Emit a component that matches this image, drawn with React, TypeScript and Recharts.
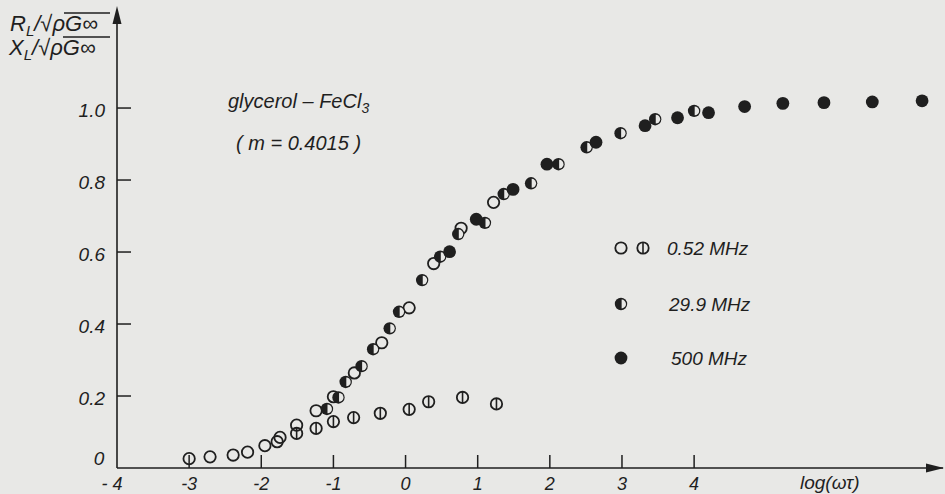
import React from "react";
import { ScatterChart, Scatter, XAxis, YAxis } from "recharts";

// log(ωτ), R_L or X_L / sqrt(ρ G∞)
const open052: [number, number][] = [
  [-3.0, 0.026], [-2.71, 0.031], [-2.39, 0.036], [-2.19, 0.044], [-1.95, 0.062],
  [-1.78, 0.073], [-1.74, 0.085], [-1.51, 0.119], [-1.24, 0.159], [-1.0, 0.198],
  [-0.71, 0.264], [-0.33, 0.348], [0.05, 0.445], [0.39, 0.568], [0.77, 0.666],
  [1.22, 0.738],
];

const bar052: [number, number][] = [
  [-1.51, 0.096], [-1.24, 0.11], [-1.0, 0.129], [-0.72, 0.14], [-0.35, 0.152],
  [0.05, 0.163], [0.32, 0.184], [0.79, 0.196], [1.26, 0.178],
];

const half299: [number, number][] = [
  [-1.09, 0.164], [-0.93, 0.196], [-0.83, 0.239], [-0.61, 0.283], [-0.45, 0.33],
  [-0.22, 0.388], [-0.09, 0.434], [0.23, 0.522], [0.48, 0.587], [0.73, 0.65],
  [1.1, 0.681], [1.36, 0.761], [1.74, 0.791], [2.12, 0.844], [2.51, 0.891],
  [2.98, 0.93], [3.46, 0.969], [4.0, 0.992],
];

const full500: [number, number][] = [
  [0.61, 0.601], [0.98, 0.691], [1.49, 0.774], [1.96, 0.844], [2.64, 0.905],
  [3.32, 0.951], [3.77, 0.973], [4.2, 0.987], [4.7, 1.004], [5.23, 1.013],
  [5.8, 1.015], [6.47, 1.017], [7.16, 1.02],
];

const xTicks = [-4, -3, -2, -1, 0, 1, 2, 3, 4];
const yTicks = [0, 0.2, 0.4, 0.6, 0.8, 1.0];

const bg = "#e8e8e6";
const ink = "#1f1f1f";
const font = "'Liberation Sans', Arial, sans-serif";

const toPts = (a: [number, number][]) => a.map(([x, y]) => ({ x, y }));

const OpenMark = (p: any) => (
  <circle cx={p.cx} cy={p.cy} r={5.7} fill="none" stroke={ink} strokeWidth={1.8} />
);

const BarMark = (p: any) => (
  <g>
    <circle cx={p.cx} cy={p.cy} r={5.7} fill="none" stroke={ink} strokeWidth={1.8} />
    <line x1={p.cx} y1={p.cy - 5.7} x2={p.cx} y2={p.cy + 5.7} stroke={ink} strokeWidth={1.6} />
  </g>
);

const HalfMark = (p: any) => (
  <g>
    <circle cx={p.cx} cy={p.cy} r={6.2} fill={ink} />
    <path
      d={`M ${p.cx + 0.6} ${p.cy - 4.4} A 4.4 4.4 0 0 1 ${p.cx + 0.6} ${p.cy + 4.4} Z`}
      fill={bg}
    />
  </g>
);

const FullMark = (p: any) => <circle cx={p.cx} cy={p.cy} r={6.4} fill={ink} />;

const XTick = (p: any) => {
  const v = p.payload.value;
  return (
    <g>
      {v !== -4 && <line x1={p.x} y1={p.y} x2={p.x} y2={p.y - 13} stroke={ink} strokeWidth={1.5} />}
      <text
        x={v === -4 ? p.x - 5 : p.x}
        y={p.y + 16}
        textAnchor="middle"
        dominantBaseline="central"
        fontSize={18}
        fontStyle="italic"
        fontFamily={font}
        fill={ink}
      >
        {v === -4 ? "- 4" : String(v)}
      </text>
    </g>
  );
};

const YTick = (p: any) => {
  const v = p.payload.value;
  if (v === 0) {
    return (
      <text x={p.x - 18} y={p.y - 10} textAnchor="middle" dominantBaseline="central"
        fontSize={19} fontStyle="italic" fontFamily={font} fill={ink}>0</text>
    );
  }
  return (
    <g>
      <line x1={p.x} y1={p.y} x2={p.x + 14} y2={p.y} stroke={ink} strokeWidth={1.5} />
      <text x={p.x - 12} y={p.y + 2} textAnchor="end" dominantBaseline="central"
        fontSize={19} fontStyle="italic" fontFamily={font} fill={ink}>
        {v.toFixed(1)}
      </text>
    </g>
  );
};

const txt = { fontFamily: font, fontStyle: "italic" as const, fill: ink };

export default function App() {
  return (
    <div style={{ position: "absolute", left: 0, top: 0, width: 945, height: 494, background: bg }}>
      <ScatterChart width={945} height={494} margin={{ top: 13, right: 2, bottom: 0, left: 57 }}>
        <XAxis
          type="number"
          dataKey="x"
          domain={[-4, 7.45]}
          ticks={xTicks}
          interval={0}
          allowDataOverflow
          height={26}
          tickSize={0}
          tickMargin={0}
          tickLine={false}
          axisLine={{ stroke: ink, strokeWidth: 1.6 }}
          tick={<XTick />}
        />
        <YAxis
          type="number"
          dataKey="y"
          domain={[0, 1.264]}
          ticks={yTicks}
          interval={0}
          allowDataOverflow
          width={60}
          tickSize={0}
          tickMargin={0}
          tickLine={false}
          axisLine={{ stroke: ink, strokeWidth: 1.6 }}
          tick={<YTick />}
        />
        <Scatter data={toPts(bar052)} shape={<BarMark />} isAnimationActive={false} />
        <Scatter data={toPts(open052)} shape={<OpenMark />} isAnimationActive={false} />
        <Scatter data={toPts(half299)} shape={<HalfMark />} isAnimationActive={false} />
        <Scatter data={toPts(full500)} shape={<FullMark />} isAnimationActive={false} />
      </ScatterChart>

      <svg width={945} height={494} style={{ position: "absolute", left: 0, top: 0, pointerEvents: "none" }}>
        {/* axis arrows */}
        <path d="M 117 6 L 112.5 24 L 121.5 24 Z" fill={ink} />
        <path d="M 944 468 L 926 463.5 L 926 472.5 Z" fill={ink} />

        {/* y axis label */}
        <text x={10} y={31} fontSize={22} {...txt}>
          R<tspan fontSize={15} dy={5}>L</tspan>
          <tspan dy={-5}>/√ρG∞</tspan>
        </text>
        <line x1={64} y1={13} x2={110} y2={13} stroke={ink} strokeWidth={1.5} />
        <text x={9} y={55} fontSize={22} {...txt}>
          X<tspan fontSize={15} dy={5}>L</tspan>
          <tspan dy={-5}>/√ρG∞</tspan>
        </text>
        <line x1={63} y1={37} x2={110} y2={37} stroke={ink} strokeWidth={1.5} />

        {/* title */}
        <text x={228} y={108} fontSize={20} {...txt}>
          glycerol – FeCl<tspan fontSize={14} dy={5}>3</tspan>
        </text>
        <text x={236} y={150} fontSize={20} {...txt}>( m = 0.4015 )</text>

        {/* legend */}
        <circle cx={621} cy={248} r={5.7} fill="none" stroke={ink} strokeWidth={1.8} />
        <circle cx={643} cy={248} r={5.7} fill="none" stroke={ink} strokeWidth={1.8} />
        <line x1={643} y1={242.3} x2={643} y2={253.7} stroke={ink} strokeWidth={1.6} />
        <text x={667} y={255} fontSize={19} {...txt}>0.52 MHz</text>

        <circle cx={621} cy={304} r={6.2} fill={ink} />
        <path d="M 621.6 299.6 A 4.4 4.4 0 0 1 621.6 308.4 Z" fill={bg} />
        <text x={669} y={311} fontSize={19} {...txt}>29.9 MHz</text>

        <circle cx={621} cy={358} r={6.4} fill={ink} />
        <text x={671} y={365} fontSize={19} {...txt}>500 MHz</text>

        {/* x axis label */}
        <text x={800} y={489} fontSize={19} {...txt}>log(ωτ)</text>
      </svg>
    </div>
  );
}
